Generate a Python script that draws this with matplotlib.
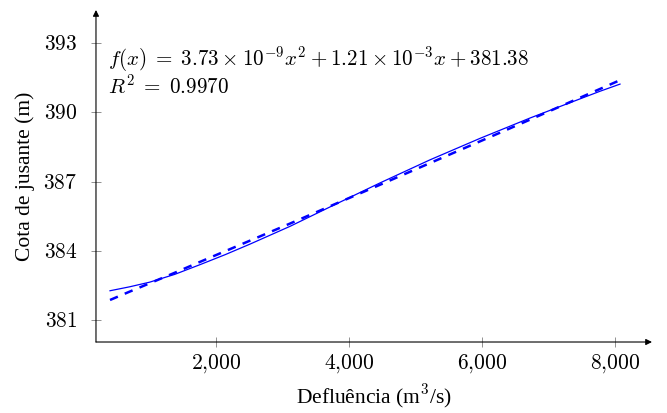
import matplotlib
matplotlib.use("Agg")
import matplotlib.pyplot as plt
from matplotlib.ticker import FuncFormatter

plt.rcParams["mathtext.fontset"] = "cm"
plt.rcParams["font.family"] = ["Liberation Serif", "DejaVu Serif"]

vazao = [406, 700, 1000, 1380, 1759, 2135, 2511, 3113, 3714, 4466, 5218, 5970, 6721, 7173, 7774, 8075]
cota = [382.27, 382.44, 382.64, 382.98, 383.40, 383.83, 384.29, 385.06, 385.90, 386.94,
        387.94, 388.87, 389.75, 390.25, 390.91, 391.22]
cota_ajuste = [381.87, 382.23, 382.59, 383.05, 383.52, 383.98, 384.44, 385.18, 385.93, 386.86,
               387.80, 388.74, 389.68, 390.25, 391.01, 391.39]

xticks = [2000, 4000, 6000, 8000]
yticks = [381, 384, 387, 390, 393]

fig = plt.figure(figsize=(6.67, 4.13), dpi=100)
ax = fig.add_axes([0.1439, 0.1719, 0.8336, 0.8039])

ax.plot(vazao, cota, color="blue", lw=0.9)
ax.plot(vazao, cota_ajuste, color="blue", lw=1.8, linestyle=(0, (3.4, 3.0)))

ax.set_xlim(195, 8556)
ax.set_ylim(380.05, 394.43)

for s in ax.spines.values():
    s.set_visible(False)
ax.annotate("", xy=(1, 0), xytext=(0, 0), xycoords="axes fraction",
            arrowprops=dict(arrowstyle="-|>", color="black", lw=0.8, mutation_scale=9, shrinkA=0, shrinkB=0))
ax.annotate("", xy=(0, 1), xytext=(0, 0), xycoords="axes fraction",
            arrowprops=dict(arrowstyle="-|>", color="black", lw=0.8, mutation_scale=9, shrinkA=0, shrinkB=0))

ax.set_xticks(xticks)
ax.set_yticks(yticks)
ax.xaxis.set_major_formatter(FuncFormatter(lambda v, p: r"$%d{,}%03d$" % (v // 1000, v % 1000)))
ax.yaxis.set_major_formatter(FuncFormatter(lambda v, p: r"$%d$" % v))
ax.tick_params(direction="inout", length=7, width=0.6, color="#808080", labelsize=15.5)
ax.tick_params(axis="x", pad=4)
ax.tick_params(axis="y", pad=10)

ax.set_xlabel(r"Defluência (m$^3$/s)", fontsize=15.5, labelpad=5)
ax.set_ylabel("Cota de jusante (m)", fontsize=15.5, labelpad=6)

formula = (r"$f(x)\;=\;3.73\times10^{-9}x^2 + 1.21\times10^{-3}x + 381.38$" + "\n"
           + r"$R^2\;=\;0.9970$")
ax.text(0.022, 0.814, formula, transform=ax.transAxes, fontsize=15.2,
        va="center", ha="left", linespacing=1.05)

fig.savefig("out.png", dpi=100)
